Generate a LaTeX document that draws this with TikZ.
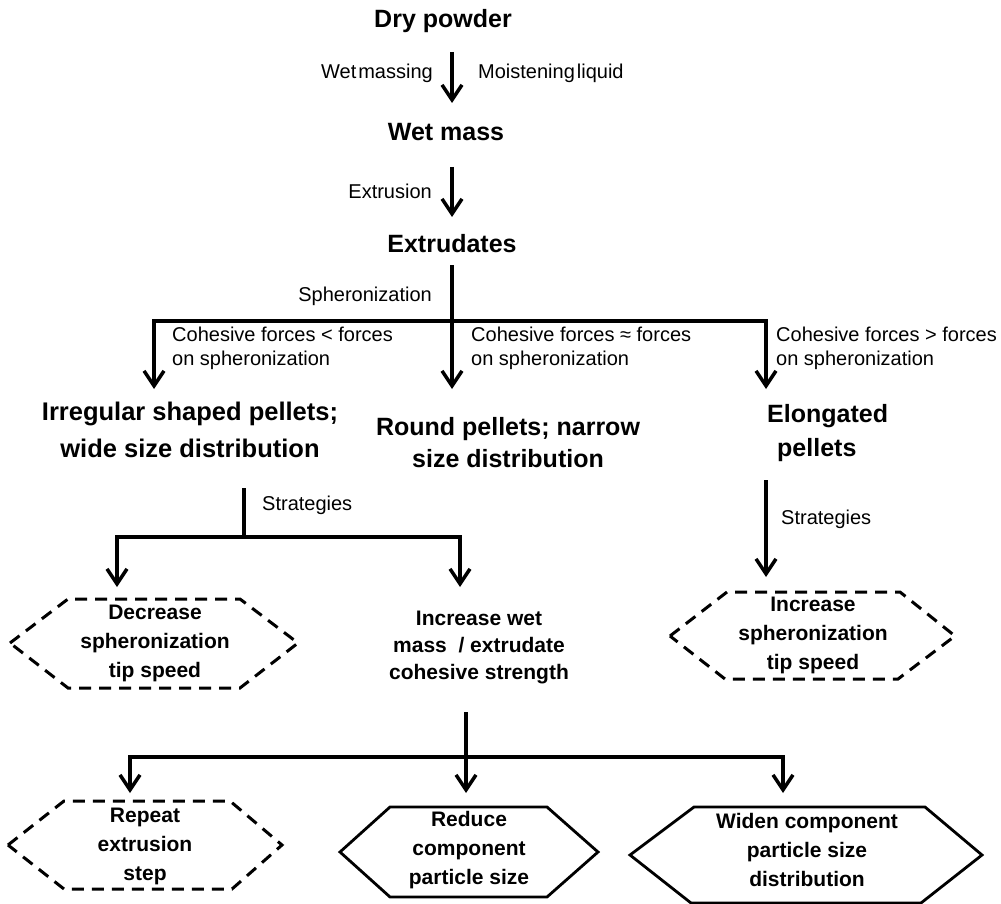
\documentclass[tikz,border=0pt]{standalone}
\usepackage{fontspec}
\setmainfont{Liberation Sans}
\usetikzlibrary{arrows.meta}
\begin{document}
\begin{tikzpicture}[x=1pt,y=-1pt,
  ttl/.style={font=\fontsize{25}{34}\selectfont\bfseries, align=center, inner sep=0pt},
  lab/.style={font=\fontsize{20}{24}\selectfont, inner sep=0pt, align=left},
  hxt/.style={font=\fontsize{21}{29}\selectfont\bfseries, align=center, inner sep=0pt},
  ln/.style={line width=3.5pt},
  arr/.style={line width=3.5pt, line join=miter, -{Straight Barb[length=15pt,width=20pt]}},
  hexd/.style={line width=3pt, dash pattern=on 12pt off 8pt},
  hexs/.style={line width=2.8pt, line join=miter}]
\useasboundingbox (0,0) rectangle (1001,904);
\fill[white] (0,0) rectangle (1001,904);

% top chain
\node[ttl] (dry) at (443,21) {Dry powder};
\node[ttl] (wet) at (446,132) {Wet mass};
\node[ttl] (ext) at (452,244) {Extrudates};
\coordinate (a1s) at (452,52); \coordinate (a1e) at (452,103);
\coordinate (a2s) at (452,167); \coordinate (a2e) at (452,217);
\draw[arr] (a1s) -- (a1e);
\draw[arr] (a2s) -- (a2e);
\node[lab, anchor=east] (wm) at (433,73) {Wet\kern2pt massing};
\node[lab, anchor=west] (ml) at (478,73) {Moistening\kern2pt liquid};
\node[lab, anchor=east] (ex) at (432,191) {Extrusion};

% spheronization split
\coordinate (s0) at (452,265);
\coordinate (sb) at (452,321);
\coordinate (sl) at (154,321);
\coordinate (sr) at (766,321);
\coordinate (tl) at (154,389);
\coordinate (tm) at (452,389);
\coordinate (tr) at (766,389);
\node[lab, anchor=east] (sph) at (432,296) {Spheronization};
\draw[ln] (s0) -- (sb);
\draw[arr] (sb) -- (sl) -- (tl);
\draw[arr] (sb) -- (tm);
\draw[arr] (sb) -- (sr) -- (tr);
\node[lab, anchor=north west] (c1) at (172,327) {Cohesive forces < forces\\on spheronization};
\node[lab, anchor=north west] (c2) at (471,327) {Cohesive forces ≈ forces\\on spheronization};
\node[lab, anchor=north west] (c3) at (776,327) {Cohesive forces > forces\\on spheronization};

% outcomes
\node[ttl, font=\fontsize{25.5}{37}\selectfont\bfseries] (irr) at (190,430) {Irregular shaped pellets;\\wide size distribution};
\node[ttl, font=\fontsize{25}{32}\selectfont\bfseries] (rnd) at (508,443) {Round pellets; narrow\\size distribution};
\node[ttl, align=left, anchor=west] (elo) at (767,433) {Elongated\\\hspace*{10pt}pellets};

% left strategies
\coordinate (l0) at (244,488);
\coordinate (lb) at (244,537);
\coordinate (ll) at (117,537);
\coordinate (lr) at (460,537);
\coordinate (le1) at (117,587);
\coordinate (le2) at (460,587);
\node[lab, anchor=west] (st1) at (262,505) {Strategies};
\draw[ln] (l0) -- (lb);
\draw[arr] (lb) -- (ll) -- (le1);
\draw[arr] (lb) -- (lr) -- (le2);

% right strategies
\coordinate (r0) at (766,480);
\coordinate (r1) at (766,577);
\draw[arr] (r0) -- (r1);
\node[lab, anchor=west] (st2) at (781,519) {Strategies};

% hexagons middle
\draw[hexd] (10,643)--(68,599)--(240,599)--(298,643)--(240,688)--(68,688)--cycle;
\node[hxt] (dec) at (155,643) {Decrease\\spheronization\\tip speed};
\node[hxt, font=\fontsize{21}{27}\selectfont\bfseries] (inc) at (479,647) {Increase wet\\mass\ \ / extrudate\\cohesive strength};
\draw[hexd] (670,636)--(727,592)--(900,592)--(955,636)--(898,679)--(725,679)--cycle;
\node[hxt] (inc2) at (813,635) {Increase\\spheronization\\tip speed};

% bottom split
\coordinate (b0) at (466,712);
\coordinate (bb) at (466,757);
\coordinate (bl) at (130,757);
\coordinate (br) at (783,757);
\coordinate (be1) at (130,793);
\coordinate (be2) at (466,793);
\coordinate (be3) at (783,793);
\draw[ln] (b0) -- (bb);
\draw[arr] (bb) -- (bl) -- (be1);
\draw[arr] (bb) -- (be2);
\draw[arr] (bb) -- (br) -- (be3);

\draw[hexd] (8,845)--(64,801)--(230,801)--(282,845)--(232,889)--(64,889)--cycle;
\node[hxt] (rep) at (145,846) {Repeat\\extrusion\\step};
\draw[hexs] (340,852)--(390,807)--(547,807)--(598,852)--(547,897)--(390,897)--cycle;
\node[hxt] (red) at (469,850) {Reduce\\component\\particle size};
\draw[hexs] (630,855)--(694,807)--(925,807)--(982,855)--(921,903)--(691,903)--cycle;
\node[hxt] (wid) at (807,850) {Widen component\\particle size\\distribution};
\end{tikzpicture}
\end{document}
